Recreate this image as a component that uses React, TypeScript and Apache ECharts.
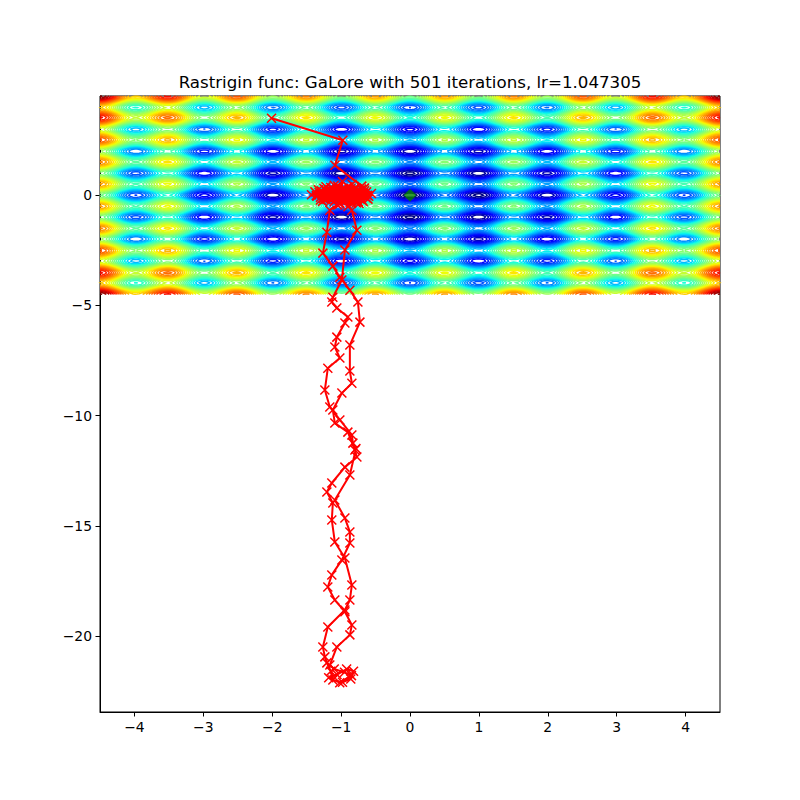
import React, { useEffect, useRef } from "react";
import * as echarts from "echarts";

// ---------- text ----------
const TITLE = "Rastrigin func: GaLore with 501 iterations, lr=1.047305";
const X_TICKS = [-4, -3, -2, -1, 0, 1, 2, 3, 4];
const Y_TICKS = [-20, -15, -10, -5, 0];
const X_LIMITS = [-4.5, 4.5];
const Y_LIMITS = [-23.45, 4.5];

// ---------- surface (Rastrigin) ----------
const SURFACE_X = [-4.5, 4.5];
const SURFACE_Y = [-4.5, 4.5];
const CONTOUR_LEVELS = [2, 80]; // first / last contour level
const CONTOUR_STEP = 2;

// ---------- optimiser trajectory ----------
const PATH_START = [
  [-2.01, 3.49], [-0.975, 2.49], [-1.09, 1.36], [-0.7, 0.41],
];
const CLUSTER_A = [
  [-1.2, 0.1], [-0.72, -0.15], [-1.28, 0.05], [-0.66, 0.2], [-1.35, -0.05],
  [-0.62, 0.0], [-1.25, 0.3], [-0.75, -0.3], [-1.15, 0.35], [-0.8, -0.25],
  [-1.3, -0.1], [-0.68, 0.1], [-1.22, -0.2], [-0.7, 0.28], [-1.43, 0.02],
  [-0.6, -0.05], [-1.18, 0.25], [-0.85, -0.35], [-1.05, 0.42], [-0.78, 0.15],
  [-1.32, 0.12], [-0.64, -0.12], [-1.1, -0.3], [-0.9, 0.38], [-1.26, -0.15],
  [-0.73, 0.05], [-1.2, 0.18], [-0.82, -0.18], [-1.12, 0.3], [-0.76, -0.08],
  [-1.36, -0.02], [-0.56, 0.08], [-1.02, -0.4], [-0.98, 0.62], [-1.24, 0.0],
  [-0.7, -0.2], [-0.9, -0.52], [-1.08, 0.15], [-0.84, -0.1], [-1.14, -0.22],
  [-0.88, 0.25], [-1.0, 0.05], [-0.94, -0.28], [-1.04, 0.32], [-0.86, -0.02],
  [-1.16, 0.05], [-0.8, 0.32], [-1.06, -0.15], [-0.92, 0.12], [-1.22, 0.38],
  [-0.74, -0.38], [-1.0, -0.25], [-0.96, 0.3],
];
const DESCENT = [
  [-1.018, -0.36], [-1.164, -0.68], [-1.207, -1.68], [-1.265, -2.63], [-1.12, -3.22],
  [-1.018, -3.72], [-0.873, -4.31], [-0.756, -4.85], [-0.727, -5.76], [-0.873, -6.8],
  [-0.873, -7.98], [-0.844, -8.53], [-0.989, -8.98], [-1.12, -9.75], [-1.091, -10.34],
  [-0.902, -10.75], [-0.8, -11.56], [-0.771, -11.88], [-0.945, -12.34], [-1.135, -13.06],
  [-1.207, -13.47], [-1.12, -13.97], [-1.135, -14.74], [-1.091, -15.74], [-0.945, -16.46],
  [-0.844, -17.69], [-0.873, -18.37], [-0.945, -18.82], [-1.193, -19.59], [-1.265, -20.5],
  [-1.236, -20.95], [-1.207, -21.22],
];
const BOTTOM_CLUSTER = [
  [-1.15, -21.6], [-1.12, -22.0], [-0.98, -22.1], [-0.86, -21.95], [-0.82, -21.6],
  [-0.92, -21.5], [-1.06, -21.75], [-1.18, -21.9], [-1.02, -22.12], [-0.85, -21.8],
  [-0.95, -21.65], [-1.1, -21.5],
];
const ASCENT = [
  [-1.164, -21.32], [-1.062, -20.5], [-0.873, -19.95], [-0.844, -19.5], [-0.945, -18.9],
  [-1.091, -18.37], [-1.193, -17.78], [-1.135, -17.23], [-0.989, -16.55], [-0.873, -15.78],
  [-0.873, -15.28], [-0.945, -14.65], [-1.091, -13.83], [-0.873, -12.7], [-0.785, -11.5],
  [-0.829, -11.25], [-0.844, -10.88], [-1.018, -10.2], [-1.164, -9.61], [-1.236, -8.84],
  [-1.193, -7.85], [-1.018, -7.39], [-1.091, -6.89], [-1.062, -6.44], [-0.945, -5.8],
  [-0.902, -5.53], [-1.062, -5.12], [-1.135, -4.85], [-1.12, -4.63], [-0.989, -3.85],
  [-0.945, -2.49], [-0.771, -1.59], [-0.844, -0.68], [-0.945, -0.23],
];
const CLUSTER_B = [
  [-1.16, 0.22], [-0.86, 0.3], [-1.08, -0.22], [-0.74, 0.22], [-1.29, 0.2],
  [-0.67, -0.02], [-1.14, -0.12], [-0.88, 0.1], [-1.0, -0.1], [-0.92, 0.2],
  [-1.06, 0.08], [-0.8, -0.05], [-1.19, -0.05], [-0.96, 0.0], [-1.33, 0.25],
  [-0.63, 0.15], [-1.05, -0.45], [-0.84, 0.5], [-1.27, -0.28], [-0.68, -0.28],
  [-1.38, 0.15], [-0.61, -0.18], [-1.0, 0.25], [-0.94, -0.2], [-1.1, 0.45],
  [-0.78, -0.35], [-1.3, -0.22], [-0.66, 0.32], [-1.12, 0.0], [-0.9, -0.12],
];
const GLOBAL_MINIMUM = [[0, 0]];

// ---------- helpers ----------
function rastrigin(x: number, y: number) {
  return 20 + x * x - 10 * Math.cos(2 * Math.PI * x) + y * y - 10 * Math.cos(2 * Math.PI * y);
}

const JET_R = [[0, 0], [0.35, 0], [0.66, 1], [0.89, 1], [1, 0.5]];
const JET_G = [[0, 0], [0.125, 0], [0.375, 1], [0.64, 1], [0.91, 0], [1, 0]];
const JET_B = [[0, 0.5], [0.11, 1], [0.34, 1], [0.65, 0], [1, 0]];
function piece(pts: number[][], t: number) {
  for (let k = 0; k < pts.length - 1; k++) {
    const a = pts[k], b = pts[k + 1];
    if (t <= b[0]) return a[1] + ((t - a[0]) / (b[0] - a[0])) * (b[1] - a[1]);
  }
  return pts[pts.length - 1][1];
}
function jet(t: number) {
  const r = Math.round(255 * piece(JET_R, t));
  const g = Math.round(255 * piece(JET_G, t));
  const b = Math.round(255 * piece(JET_B, t));
  return `rgb(${r},${g},${b})`;
}

type Level = { level: number; lines: number[][] };

function buildContours(nx: number, ny: number): Level[] {
  const [x0, x1] = SURFACE_X, [y0, y1] = SURFACE_Y;
  const dx = (x1 - x0) / nx, dy = (y1 - y0) / ny;
  const W = nx + 1;
  const Z = new Float64Array((nx + 1) * (ny + 1));
  for (let j = 0; j <= ny; j++)
    for (let i = 0; i <= nx; i++) Z[j * W + i] = rastrigin(x0 + i * dx, y0 + j * dy);
  const nH = nx * (ny + 1);
  const nE = nH + (nx + 1) * ny;
  const ptX = new Float64Array(nE), ptY = new Float64Array(nE);
  const adj1 = new Int32Array(nE), adj2 = new Int32Array(nE);
  const out: Level[] = [];
  const levels: number[] = [];
  for (let L = CONTOUR_LEVELS[0]; L <= CONTOUR_LEVELS[1] + 1e-9; L += CONTOUR_STEP) levels.push(L);

  for (const L of levels) {
    adj1.fill(-1); adj2.fill(-1);
    const segA: number[] = [], segB: number[] = [];
    const edgeH = (i: number, j: number) => {
      const id = j * nx + i;
      const za = Z[j * W + i], zb = Z[j * W + i + 1];
      const t = (L - za) / (zb - za);
      ptX[id] = x0 + (i + t) * dx; ptY[id] = y0 + j * dy;
      return id;
    };
    const edgeV = (i: number, j: number) => {
      const id = nH + j * W + i;
      const za = Z[j * W + i], zb = Z[(j + 1) * W + i];
      const t = (L - za) / (zb - za);
      ptX[id] = x0 + i * dx; ptY[id] = y0 + (j + t) * dy;
      return id;
    };
    const add = (a: number, b: number) => {
      const s = segA.length;
      segA.push(a); segB.push(b);
      if (adj1[a] < 0) adj1[a] = s; else adj2[a] = s;
      if (adj1[b] < 0) adj1[b] = s; else adj2[b] = s;
    };
    for (let j = 0; j < ny; j++) {
      for (let i = 0; i < nx; i++) {
        const v0 = Z[j * W + i], v1 = Z[j * W + i + 1];
        const v2 = Z[(j + 1) * W + i + 1], v3 = Z[(j + 1) * W + i];
        const c = (v0 > L ? 1 : 0) | (v1 > L ? 2 : 0) | (v2 > L ? 4 : 0) | (v3 > L ? 8 : 0);
        if (c === 0 || c === 15) continue;
        const e0 = () => edgeH(i, j), e1 = () => edgeV(i + 1, j);
        const e2 = () => edgeH(i, j + 1), e3 = () => edgeV(i, j);
        switch (c) {
          case 1: case 14: add(e3(), e0()); break;
          case 2: case 13: add(e0(), e1()); break;
          case 3: case 12: add(e3(), e1()); break;
          case 4: case 11: add(e1(), e2()); break;
          case 6: case 9: add(e0(), e2()); break;
          case 7: case 8: add(e3(), e2()); break;
          case 5: {
            const ctr = (v0 + v1 + v2 + v3) / 4;
            if (ctr > L) { add(e0(), e1()); add(e2(), e3()); }
            else { add(e3(), e0()); add(e1(), e2()); }
            break;
          }
          case 10: {
            const ctr = (v0 + v1 + v2 + v3) / 4;
            if (ctr > L) { add(e3(), e0()); add(e1(), e2()); }
            else { add(e0(), e1()); add(e2(), e3()); }
            break;
          }
        }
      }
    }
    const used = new Uint8Array(segA.length);
    const lines: number[][] = [];
    const walk = (start: number, e: number) => {
      const res: number[] = [];
      let cur = start;
      for (;;) {
        let n = adj1[e] === cur ? adj2[e] : adj1[e];
        if (n < 0 || used[n]) break;
        used[n] = 1;
        const ne = segA[n] === e ? segB[n] : segA[n];
        res.push(ne);
        cur = n; e = ne;
      }
      return res;
    };
    for (let s = 0; s < segA.length; s++) {
      if (used[s]) continue;
      used[s] = 1;
      const fwd = walk(s, segB[s]);
      const bwd = walk(s, segA[s]);
      const edges = bwd.reverse().concat([segA[s], segB[s]], fwd);
      const pts: number[] = [];
      for (const e of edges) pts.push(ptX[e], ptY[e]);
      lines.push(pts);
    }
    out.push({ level: L, lines });
  }
  return out;
}

const fmt = (v: number) => String(v).replace("-", "\u2212");

export default function App() {
  const ref = useRef<HTMLDivElement>(null);
  useEffect(() => {
    if (!ref.current) return;
    const chart = echarts.init(ref.current, undefined, { renderer: "svg" });
    const contours = buildContours(300, 120);
    const lvMin = CONTOUR_LEVELS[0], lvMax = CONTOUR_LEVELS[1];
    const path = [...PATH_START, ...CLUSTER_A, ...DESCENT, ...BOTTOM_CLUSTER, ...ASCENT, ...CLUSTER_B];
    const font = "DejaVu Sans";
    chart.setOption({
      animation: false,
      backgroundColor: "#ffffff",
      grid: {
        left: 100, right: 80, top: 96, bottom: 88,
        containLabel: false, outerBoundsMode: "none",
        show: true, borderColor: "#000", borderWidth: 1, backgroundColor: "transparent",
      },
      graphic: [
        {
          type: "text", x: 410, y: 82, z: 10,
          style: {
            text: TITLE, fill: "#000", fontSize: 16.67, fontFamily: font,
            align: "center", verticalAlign: "middle", textAlign: "center", textVerticalAlign: "middle",
          },
        },
      ],
      xAxis: {
        type: "value", min: X_LIMITS[0], max: X_LIMITS[1],
        axisLine: { show: true, onZero: false, lineStyle: { color: "#000", width: 1 } },
        axisTick: { show: true, inside: false, length: 4.5, customValues: X_TICKS, lineStyle: { color: "#000", width: 1 } },
        axisLabel: { customValues: X_TICKS, formatter: fmt, color: "#000", fontSize: 13.9, fontFamily: font, margin: 8 },
        splitLine: { show: false },
      },
      yAxis: {
        type: "value", min: Y_LIMITS[0], max: Y_LIMITS[1],
        axisLine: { show: true, onZero: false, lineStyle: { color: "#000", width: 1 } },
        axisTick: { show: true, inside: false, length: 4.5, customValues: Y_TICKS, lineStyle: { color: "#000", width: 1 } },
        axisLabel: { customValues: Y_TICKS, formatter: fmt, color: "#000", fontSize: 13.9, fontFamily: font, margin: 8 },
        splitLine: { show: false },
      },
      series: [
        {
          type: "custom", silent: true, z: 1, clip: false,
          data: [[0, 0]],
          renderItem: (_p: any, api: any) => {
            const p0 = api.coord([SURFACE_X[0], SURFACE_Y[0]]);
            const p1 = api.coord([SURFACE_X[1], SURFACE_Y[1]]);
            const sx = (p1[0] - p0[0]) / (SURFACE_X[1] - SURFACE_X[0]);
            const sy = (p1[1] - p0[1]) / (SURFACE_Y[1] - SURFACE_Y[0]);
            const children = contours.map(({ level, lines }) => {
              const parts: string[] = [];
              for (const ln of lines) {
                for (let k = 0; k < ln.length; k += 2) {
                  const X = p0[0] + (ln[k] - SURFACE_X[0]) * sx;
                  const Y = p0[1] + (ln[k + 1] - SURFACE_Y[0]) * sy;
                  parts.push((k === 0 ? "M" : "L") + X.toFixed(1) + " " + Y.toFixed(1));
                }
              }
              return {
                type: "path", silent: true,
                shape: { pathData: parts.join("") },
                style: { stroke: jet((level - lvMin) / (lvMax - lvMin)), fill: "none", lineWidth: 1.5 },
              };
            });
            return { type: "group", children };
          },
        },
        {
          type: "line", z: 3, silent: true,
          data: path,
          showSymbol: true, showAllSymbol: true,
          symbol: "path://M0,0L10,10M10,0L0,10",
          symbolSize: 9,
          itemStyle: { color: "red", borderColor: "red", borderWidth: 1.5 },
          lineStyle: { color: "red", width: 2 },
        },
        {
          type: "scatter", z: 4, silent: true,
          data: GLOBAL_MINIMUM,
          symbol: "diamond", symbolSize: [13, 13],
          itemStyle: { color: "green" },
        },
      ],
    });
    return () => chart.dispose();
  }, []);
  return (
    <div
      ref={ref}
      style={{ position: "fixed", left: 0, top: 0, width: 800, height: 800, background: "#fff" }}
    />
  );
}
